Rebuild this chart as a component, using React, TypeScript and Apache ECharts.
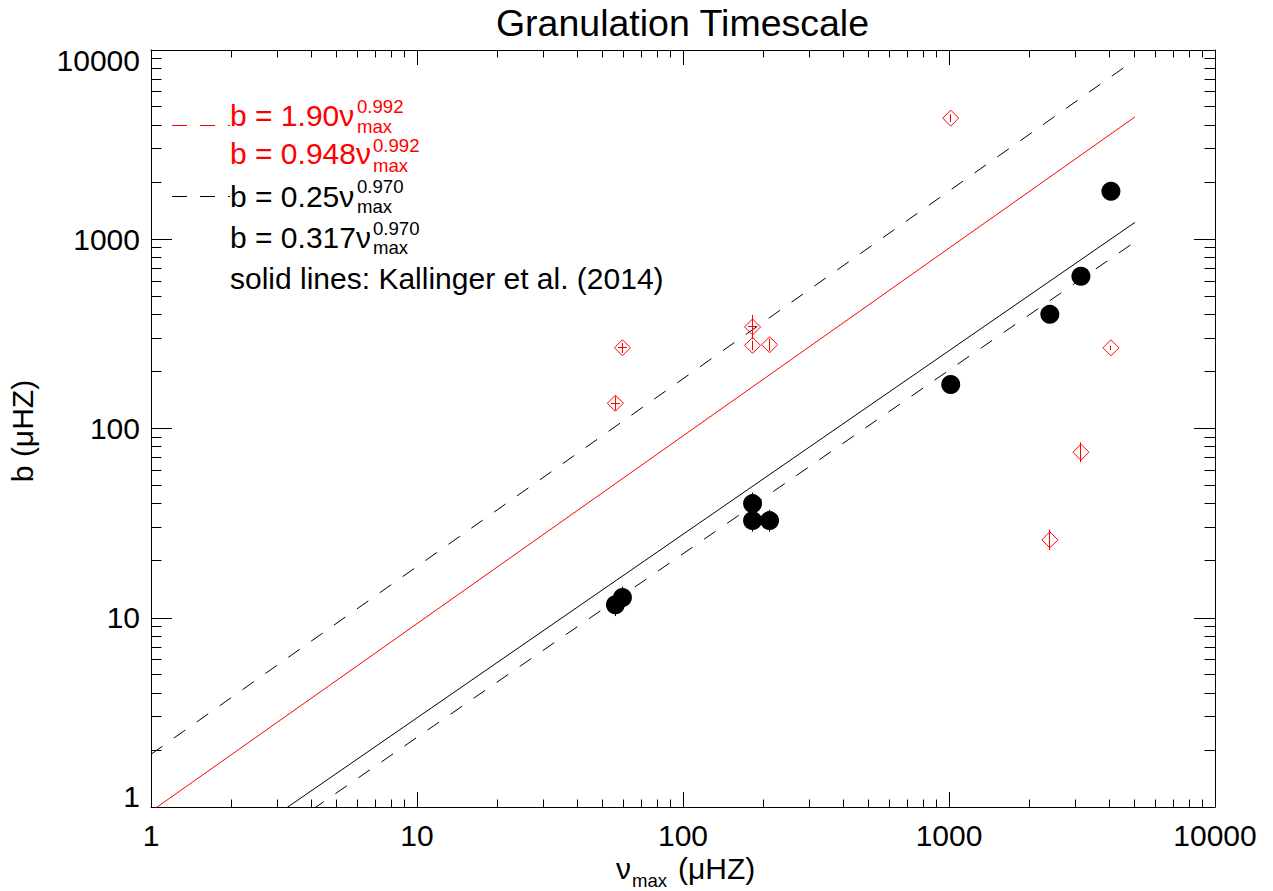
import React, { useEffect, useRef } from "react";
import * as echarts from "echarts";

// ---------------- data ----------------
const nuMax = [55.7, 59.2, 182.6, 182.6, 211.6, 1015, 2394, 3133, 4062];

const bBlack = [11.7, 12.8, 40.1, 32.6, 32.6, 171, 401, 637, 1795];
const bBlackLow = [10.2, 11.2, 35.1, 28.5, 28.5, 155, 364, 578, 1629];
const bBlackHigh = [13.4, 14.6, 45.9, 37.3, 37.3, 188, 442, 702, 1978];

const bRed = [136, 267, 344, 275, 277, 4365, 25.8, 74.9, 267];
const bRedLow = [125, 251, 297, 259, 257, 4157, 22.8, 66.3, 260];
const bRedHigh = [148, 284, 398, 292, 298, 4583, 29.2, 84.6, 274];
const nuRedLow = [53.6, 57.0, 175.6, 0, 0, 0, 0, 0, 0];
const nuRedHigh = [57.9, 61.5, 189.9, 0, 0, 0, 0, 0, 0];

// fit relations b = coef * nu^exp
const fitCoef = [1.9, 0.948, 0.25, 0.317];
const fitExp = [0.992, 0.992, 0.97, 0.97];
const fitCoefLabel = ["1.90", "0.948", "0.25", "0.317"];
const fitExpLabel = ["0.992", "0.992", "0.970", "0.970"];
const fitNuRange = [1, 5000];
const noteText = "solid lines: Kallinger et al. (2014)";

const titleText = "Granulation Timescale";
const majorTicks = [1, 10, 100, 1000, 10000];
const minorMultipliers = [2, 3, 4, 5, 6, 7, 8, 9];

// ---------------- layout / style ----------------
const W = 1273;
const H = 891;
const FONT = '"Liberation Sans", Arial, Helvetica, sans-serif';
const RED = "#ff0000";
const GRID = { left: 151, top: 50, right: 58, bottom: 84 };
const FS = 30; // base font size
const FS_SMALL = 18.6; // sub/superscripts

const minorTicks = majorTicks
  .slice(0, -1)
  .flatMap((d) => minorMultipliers.map((m) => d * m));

const mid = (baseline: number, fs: number) => baseline - 0.3465 * fs;

function txt(
  text: string,
  x: number,
  baseline: number,
  fs: number,
  color: string,
  align: string = "left"
) {
  return {
    type: "text",
    x,
    y: mid(baseline, fs),
    silent: true,
    z: 100,
    style: {
      text,
      fill: color,
      fontSize: fs,
      fontFamily: FONT,
      textAlign: align,
      textVerticalAlign: "middle",
      align,
      verticalAlign: "middle",
    },
  };
}

function buildGraphics() {
  const g: any[] = [];
  // title
  g.push(txt(titleText, 682.5, 36, 37.5, "#000", "center"));
  // x axis name: nu_max (uHZ)
  g.push(txt("ν", 616, 879, FS, "#000"));
  g.push(txt("max", 632, 887, FS_SMALL, "#000"));
  g.push(txt("(μHZ)", 678, 879, FS, "#000"));
  // y axis name (rotated)
  g.push({
    type: "text",
    x: 33 - 0.3465 * FS,
    y: 431,
    rotation: Math.PI / 2,
    silent: true,
    style: {
      text: "b (μHZ)",
      fill: "#000",
      fontSize: FS,
      fontFamily: FONT,
      textAlign: "center",
      textVerticalAlign: "middle",
      align: "center",
      verticalAlign: "middle",
    },
  });

  // legend
  const rowBase = [126, 164, 207.3, 248.3];
  const supBase = [112.7, 151.7, 193.3, 235];
  const subBase = [132.7, 171.7, 213.3, 254.3];
  const supLeft = [357, 373, 357, 373];
  const rowColor = [RED, RED, "#000", "#000"];
  for (let i = 0; i < 4; i++) {
    const c = rowColor[i];
    g.push(txt("b = " + fitCoefLabel[i] + "ν", 230, rowBase[i], FS, c));
    g.push(txt(fitExpLabel[i], supLeft[i], supBase[i], FS_SMALL, c));
    g.push(txt("max", supLeft[i], subBase[i], FS_SMALL, c));
  }
  g.push(txt(noteText, 230, 289, FS, "#000"));
  // legend line samples (dashed)
  g.push({
    type: "line",
    silent: true,
    shape: { x1: 172, y1: 125.5, x2: 230, y2: 125.5 },
    style: { stroke: RED, lineWidth: 1, lineDash: [15, 13] },
  });
  g.push({
    type: "line",
    silent: true,
    shape: { x1: 172, y1: 196.5, x2: 230, y2: 196.5 },
    style: { stroke: "#000", lineWidth: 1, lineDash: [15, 13] },
  });
  return g;
}

const fitStyles = [
  { color: "#000", type: [14, 14] },
  { color: RED, type: "solid" },
  { color: "#000", type: [14, 14] },
  { color: "#000", type: "solid" },
];

function fitSeries() {
  return fitCoef.map((c, i) => ({
    type: "line",
    silent: true,
    symbol: "none",
    showSymbol: false,
    clip: true,
    z: 2,
    lineStyle: { color: fitStyles[i].color, width: 1, type: fitStyles[i].type, opacity: 1 },
    data: fitNuRange.map((nu) => [nu, c * Math.pow(nu, fitExp[i])]),
  }));
}

function errorBarSeries(
  y: number[],
  lo: number[],
  hi: number[],
  xlo: number[] | null,
  xhi: number[] | null,
  color: string
) {
  return {
    type: "custom",
    coordinateSystem: "cartesian2d",
    silent: true,
    z: 3,
    encode: { x: 0, y: 1 },
    data: nuMax.map((x, i) => [
      x,
      y[i],
      lo[i],
      hi[i],
      xlo ? xlo[i] : 0,
      xhi ? xhi[i] : 0,
    ]),
    renderItem: (params: any, api: any) => {
      const x = api.value(0);
      const yv = api.value(1);
      const p1 = api.coord([x, api.value(2)]);
      const p2 = api.coord([x, api.value(3)]);
      const px = Math.round(p1[0] - 0.5) + 0.5;
      const children: any[] = [
        {
          type: "line",
          shape: { x1: px, y1: p1[1], x2: px, y2: p2[1] },
          style: { stroke: color, lineWidth: 1 },
        },
      ];
      const xl = api.value(4);
      const xh = api.value(5);
      if (xl > 0 && xh > 0) {
        const q1 = api.coord([xl, yv]);
        const q2 = api.coord([xh, yv]);
        const py = Math.round(q1[1] - 0.5) + 0.5;
        children.push({
          type: "line",
          shape: { x1: q1[0], y1: py, x2: q2[0], y2: py },
          style: { stroke: color, lineWidth: 1 },
        });
      }
      return { type: "group", children };
    },
  };
}

function minorTickSeries(axis: "x" | "y") {
  return {
    type: "custom",
    coordinateSystem: "cartesian2d",
    silent: true,
    z: 1,
    encode: { x: 0, y: 1 },
    data: minorTicks.map((v) => (axis === "x" ? [v, 1] : [1, v])),
    renderItem: (params: any, api: any) => {
      const cs = params.coordSys;
      const p = api.coord([api.value(0), api.value(1)]);
      const style = { stroke: "#000", lineWidth: 1 };
      if (axis === "x") {
        const px = Math.round(p[0] - 0.5) + 0.5;
        const b = cs.y + cs.height;
        const L = 7.5;
        return {
          type: "group",
          children: [
            { type: "line", shape: { x1: px, y1: b, x2: px, y2: b - L }, style },
            { type: "line", shape: { x1: px, y1: cs.y, x2: px, y2: cs.y + L }, style },
          ],
        };
      }
      const py = Math.round(p[1] - 0.5) + 0.5;
      const r = cs.x + cs.width;
      const L = 10.5;
      return {
        type: "group",
        children: [
          { type: "line", shape: { x1: cs.x, y1: py, x2: cs.x + L, y2: py }, style },
          { type: "line", shape: { x1: r, y1: py, x2: r - L, y2: py }, style },
        ],
      };
    },
  };
}

const labelFmt = (v: number) => String(Math.round(v));

function makeAxis(kind: "x" | "y", position: string, showLabel: boolean) {
  const isX = kind === "x";
  return {
    type: "log",
    logBase: 10,
    min: majorTicks[0],
    max: majorTicks[majorTicks.length - 1],
    position,
    axisLine: { show: true, onZero: false, lineStyle: { color: "#000", width: 1 } },
    axisTick: { show: true, inside: true, length: isX ? 15 : 21, lineStyle: { color: "#000", width: 1 } },
    minorTick: { show: false },
    splitLine: { show: false },
    minorSplitLine: { show: false },
    axisLabel: showLabel
      ? isX
        ? {
            show: true,
            fontSize: FS,
            fontFamily: FONT,
            color: "#000",
            margin: 13,
            lineHeight: 30,
            formatter: labelFmt,
          }
        : {
            show: true,
            fontSize: FS,
            fontFamily: FONT,
            color: "#000",
            margin: 11,
            lineHeight: 21,
            verticalAlignMinLabel: "bottom",
            verticalAlignMaxLabel: "top",
            formatter: labelFmt,
          }
      : { show: false },
  };
}

export default function App() {
  const ref = useRef<HTMLDivElement>(null);

  useEffect(() => {
    if (!ref.current) return;
    const chart = echarts.init(ref.current, null, { renderer: "svg", width: W, height: H });
    const option: any = {
      animation: false,
      backgroundColor: "#ffffff",
      textStyle: { fontFamily: FONT },
      grid: { ...GRID, containLabel: false, outerBoundsMode: "none" },
      xAxis: [makeAxis("x", "bottom", true), makeAxis("x", "top", false)],
      yAxis: [makeAxis("y", "left", true), makeAxis("y", "right", false)],
      graphic: { elements: buildGraphics() },
      series: [
        minorTickSeries("x"),
        minorTickSeries("y"),
        ...fitSeries(),
        errorBarSeries(bRed, bRedLow, bRedHigh, nuRedLow, nuRedHigh, RED),
        {
          type: "scatter",
          silent: true,
          z: 4,
          symbol: "diamond",
          symbolSize: 16,
          itemStyle: { color: "rgba(0,0,0,0)", borderColor: RED, borderWidth: 1, opacity: 1 },
          data: nuMax.map((x, i) => [x, bRed[i]]),
        },
        errorBarSeries(bBlack, bBlackLow, bBlackHigh, null, null, "#000"),
        {
          type: "scatter",
          silent: true,
          z: 5,
          symbol: "circle",
          symbolSize: 19,
          itemStyle: { color: "#000", opacity: 1 },
          data: nuMax.map((x, i) => [x, bBlack[i]]),
        },
      ],
    };
    chart.setOption(option);
    return () => chart.dispose();
  }, []);

  return (
    <div
      ref={ref}
      style={{ position: "fixed", left: 0, top: 0, width: W, height: H, background: "#fff" }}
    />
  );
}
